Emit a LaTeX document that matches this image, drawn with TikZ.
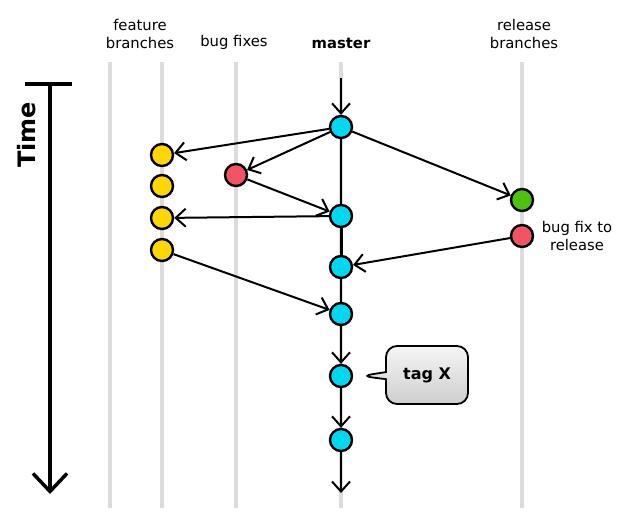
\documentclass[tikz,border=0pt]{standalone}
\usepackage{fontspec}
\setmainfont{DejaVu Sans}
\usepackage{tikz}
\usetikzlibrary{arrows.meta, positioning, shapes.callouts}

\definecolor{commitblue}{HTML}{00D8F2}
\definecolor{commityellow}{HTML}{FFD600}
\definecolor{commitred}{HTML}{F25464}
\definecolor{commitgreen}{HTML}{4CC20E}
\definecolor{lanegrey}{HTML}{DCDCDC}

\begin{document}
\begin{tikzpicture}[x=1pt, y=-1pt,
    commit/.style={circle, draw=black, line width=2.4pt, minimum size=22pt, inner sep=0pt},
    lane/.style={lanegrey, line width=4pt},
    arr/.style={-{Straight Barb[length=10pt, width=18pt]}, line width=2pt},
    link/.style={line width=1.6pt},
    lanelabel/.style={font=\fontsize{14.8}{18}\selectfont, align=center}]
    \useasboundingbox (0,0) rectangle (631,514);

    % lanes
    \draw[lane] (110,62) -- (110,508);
    \draw[lane] (162,62) -- (162,508);
    \draw[lane] (236,62) -- (236,508);
    \draw[lane] (341,62) -- (341,508);
    \draw[lane] (522,62) -- (522,508);

    \node[lanelabel] (lfeat) at (140,34) {feature\\branches};
    \node[lanelabel] (lbug) at (234,42) {bug fixes};
    \node[lanelabel, font=\fontsize{14.8}{18}\selectfont\bfseries] (lmaster) at (341,43) {master};
    \node[lanelabel] (lrel) at (524,34) {release\\branches};

    % time axis
    \coordinate (tleft) at (25,84);
    \coordinate (tright) at (72,84);
    \coordinate (ttop) at (50,84);
    \coordinate (tbot) at (50,494);
    \draw[line width=4pt] (tleft) -- (tright);
    \draw[line width=3.5pt, -{Straight Barb[length=18pt, width=34pt]}] (ttop) -- (tbot);
    \node[rotate=90, font=\fontsize{24}{24}\selectfont\bfseries] (time) at (27,135) {Time};

    % commits
    \node[commit, fill=commitblue] (m1) at (341,127) {};
    \node[commit, fill=commitblue] (m2) at (341,216) {};
    \node[commit, fill=commitblue] (m3) at (341,267) {};
    \node[commit, fill=commitblue] (m4) at (341,314) {};
    \node[commit, fill=commitblue] (m5) at (341,376) {};
    \node[commit, fill=commitblue] (m6) at (341,440) {};

    \node[commit, fill=commityellow] (f1) at (162,155) {};
    \node[commit, fill=commityellow] (f2) at (162,186) {};
    \node[commit, fill=commityellow] (f3) at (162,218) {};
    \node[commit, fill=commityellow] (f4) at (162,250) {};

    \node[commit, fill=commitred] (b1) at (236,175) {};
    \node[commit, fill=commitgreen] (r1) at (522,200) {};
    \node[commit, fill=commitred] (r2) at (522,236) {};

    \node[lanelabel] (lfix) at (577,236) {bug fix to\\release};

    % master line
    \coordinate (mtop) at (341,78);
    \coordinate (mbot) at (341,493);
    \draw[arr] (mtop) -- (m1);
    \draw[link] (m1) -- (m2);
    \draw[line width=3pt] (m2) -- (m3);
    \draw[link] (m3) -- (m4);
    \draw[arr] (m4) -- (m5);
    \draw[arr] (m5) -- (m6);
    \draw[arr] (m6) -- (mbot);

    % branches
    \draw[arr] (m1) -- (f1);
    \draw[arr] (m1) -- (b1);
    \draw[arr] (b1) -- (m2);
    \draw[arr] (m2) -- (f3);
    \draw[arr] (m1) -- (r1);
    \draw[arr] (r2) -- (m3);
    \draw[arr] (f4) -- (m4);

    % tag
    \coordinate (tagtip) at (361,376);
    \node[rectangle callout, rounded corners=11pt, draw=black, line width=1.8pt,
          top color=gray!8, bottom color=gray!38,
          minimum width=82pt, minimum height=58pt,
          callout absolute pointer={(tagtip)},
          font=\fontsize{16}{16}\selectfont\bfseries] (tag) at (427,375) {tag X};
\end{tikzpicture}
\end{document}
